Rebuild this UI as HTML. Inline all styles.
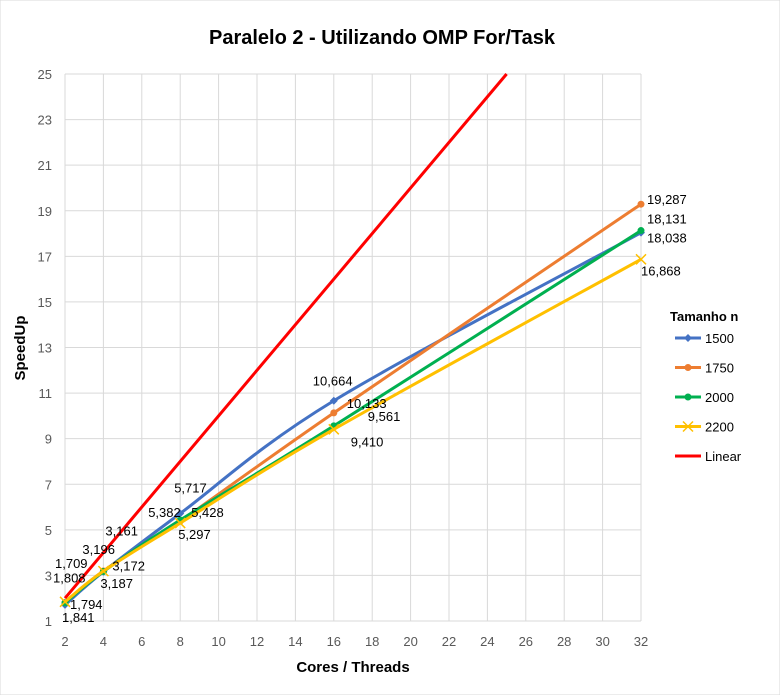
<!DOCTYPE html>
<html><head><meta charset="utf-8"><style>
body{margin:0;background:#fff;font-family:"Liberation Sans",sans-serif}
svg text{font-family:"Liberation Sans",sans-serif}
</style></head><body>
<svg id="chart" width="780" height="695" xmlns="http://www.w3.org/2000/svg">
<rect x="0" y="0" width="780" height="695" fill="#fff" stroke="#d9d9d9"/>
<text x="382" y="44" text-anchor="middle" font-size="20" font-weight="bold" fill="#000">Paralelo 2 - Utilizando OMP For/Task</text>
<g id="grid"></g>
<g id="ticks"></g>
<g id="series"></g>
<g id="labels"></g>
<text x="353" y="672" text-anchor="middle" font-size="15" font-weight="bold">Cores / Threads</text>
<text transform="translate(25,348) rotate(-90)" text-anchor="middle" font-size="15" font-weight="bold">SpeedUp</text>
<g id="legend">
<text x="670" y="321" font-size="13" font-weight="bold">Tamanho n</text>
</g>
</svg>
<script>
const xCats = [2, 4, 8, 16, 32];
const s1500 = [1.709, 3.161, 5.717, 10.664, 18.038];
const s1750 = [1.808, 3.196, 5.382, 10.133, 19.287];
const s2000 = [1.794, 3.172, 5.428, 9.561, 18.131];
const s2200 = [1.841, 3.187, 5.297, 9.410, 16.868];
const linearX = [2, 25];
const linearY = [2, 25];
const xTicks = [2,4,6,8,10,12,14,16,18,20,22,24,26,28,30,32];
const yTicks = [1,3,5,7,9,11,13,15,17,19,21,23,25];
const seriesNames = ["1500","1750","2000","2200"];

const NS="http://www.w3.org/2000/svg";
const X0=65,X1=641,Y0=621,Y1=74;
const sx=v=>X0+(v-2)/30*(X1-X0);
const sy=v=>Y0-(v-1)/24*(Y0-Y1);
function mk(tag,attrs,parent){const e=document.createElementNS(NS,tag);for(const k in attrs)e.setAttribute(k,attrs[k]);parent.appendChild(e);return e;}
const grid=document.getElementById('grid'),ticks=document.getElementById('ticks');
yTicks.forEach(t=>{
  const l=mk('line',{x1:X0,x2:X1,y1:sy(t),y2:sy(t),stroke:'#d9d9d9','stroke-width':1},grid);
  
  
  const tx=mk('text',{x:52,y:sy(t)+5,'text-anchor':'end','font-size':13,fill:'#595959'},ticks);
  tx.textContent=t;
  
  
});
xTicks.forEach(t=>{
  const l=mk('line',{x1:sx(t),x2:sx(t),y1:Y1,y2:Y0,stroke:'#d9d9d9','stroke-width':1},grid);
  
  
  const tx=mk('text',{x:sx(t),y:646,'text-anchor':'middle','font-size':13,fill:'#595959'},ticks);
  tx.textContent=t;
  
  
});
function smooth(pts){
  let d=`M${pts[0][0]},${pts[0][1]}`;
  for(let i=0;i<pts.length-1;i++){
    const p0=pts[Math.max(i-1,0)],p1=pts[i],p2=pts[i+1],p3=pts[Math.min(i+2,pts.length-1)];
    const c1=[p1[0]+(p2[0]-p0[0])/6,p1[1]+(p2[1]-p0[1])/6];
    const c2=[p2[0]-(p3[0]-p1[0])/6,p2[1]-(p3[1]-p1[1])/6];
    d+=` C${c1[0]},${c1[1]} ${c2[0]},${c2[1]} ${p2[0]},${p2[1]}`;
  }
  return d;
}
const sg=document.getElementById('series');
const allS=[s1500,s1750,s2000,s2200];
const colors=['#4472c4','#ed7d31','#00b050','#ffc000'];
const markers=['diamond','circle','circle','x'];
function marker(type,x,y,c,parent){
  let m;
  if(type==='diamond') m=mk('path',{d:`M${x},${y-4}L${x+4},${y}L${x},${y+4}L${x-4},${y}Z`,fill:c},parent);
  else if(type==='circle') m=mk('circle',{cx:x,cy:y,r:3.5,fill:c},parent);
  else m=mk('path',{d:`M${x-5},${y-5}L${x+5},${y+5}M${x-5},${y+5}L${x+5},${y-5}`,stroke:c,'stroke-width':1.5},parent);
  return m;
}
allS.forEach((s,i)=>{
  const pts=xCats.map((x,j)=>[sx(x),sy(s[j])]);
  const p=mk('path',{d:smooth(pts),fill:'none',stroke:colors[i],'stroke-width':3},sg);
  
  
  pts.forEach(pt=>{
    const m=marker(markers[i],pt[0],pt[1],colors[i],sg);
    
    
  });
});
const lin=mk('line',{x1:sx(linearX[0]),y1:sy(linearY[0]),x2:sx(linearX[1]),y2:sy(linearY[1]),stroke:'#ff0000','stroke-width':3},sg);


// label offsets (dx,dy) from each point
const offs=[
 [[-10,-42],[2,-41],[-6,-26],[-21,-20],[6,5]],
 [[-12,-25],[-21,-22],[-32,-9],[13,-10],[6,-5]],
 [[5,1],[9,-6],[11,-8],[34,-10],[6,-12]],
 [[-3,15],[-3,12],[-2,11],[17,12],[0,11]]
];
const lg=document.getElementById('labels');
allS.forEach((s,i)=>{
  s.forEach((v,j)=>{
    const x=sx(xCats[j])+offs[i][j][0], y=sy(v)+offs[i][j][1];
    const t=mk('text',{x:x,y:y+5,'font-size':13,fill:'#000'},lg);
    t.textContent=v.toFixed(3).replace('.',',');
    
    
  });
});
const leg=document.getElementById('legend');
const legNames=["1500","1750","2000","2200","Linear"];
const legColors=[...colors,'#ff0000'];
const legMarkers=[...markers,null];
legNames.forEach((n,i)=>{
  const y=338+i*29.5;
  const l=mk('line',{x1:675,x2:701,y1:y,y2:y,stroke:legColors[i],'stroke-width':3},leg);
  
  
  if(legMarkers[i]){const m=marker(legMarkers[i],688,y,legColors[i],leg);
    
    }
  const t=mk('text',{x:705,y:y+5,'font-size':13},leg);
  t.textContent=n;
  
  
});
</script>
</body></html>
